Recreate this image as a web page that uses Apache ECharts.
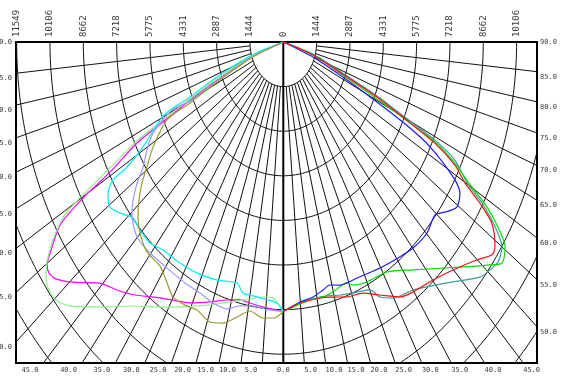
<!DOCTYPE html>
<html>
<head>
<meta charset="utf-8">
<script src="https://cdn.jsdelivr.net/npm/echarts@6/dist/echarts.min.js"></script>
<style>
  html, body { margin: 0; padding: 0; background: #fff; }
  #chart { width: 562px; height: 376px; }
</style>
</head>
<body>
<div id="chart"></div>
<script>
// Intensity rings in candela (one ring per step) and angle ticks in degrees
const intensityTicks = [0, 1444, 2887, 4331, 5775, 7218, 8662, 10106, 11549];
const ringStep = 1443.6;
const ringCount = 10;
const sideGammaTicks = [90, 85, 80, 75, 70, 65, 60, 55, 50];
const bottomGammaTicks = [0, 5, 10, 15, 20, 25, 30, 35, 40, 45];
const spokeStep = 5;

// Photometric curves: [gamma in degrees, intensity in cd]
// right half of the diagram
const planeRed = [[90,0],[71.9,1353],[67.7,2982],[66.3,4431],[64.5,6082],[63.5,7338],[61.8,8435],[59.9,9096],[58.5,9987],[57.0,10772],[54.1,11318],[52.7,11369],[50.0,10963],[44.9,10415],[40.1,10069],[34.8,9851],[31.5,9679],[27.1,9198],[23.0,8828],[18.5,8702],[14.6,8530],[10.9,8438],[4.9,8479],[0,8723]];
const planeGreen = [[90,0],[71.9,1353],[67.1,2995],[65.6,4457],[64.5,6082],[63.8,7324],[62.2,8404],[60.5,9193],[58.8,10314],[57.2,11061],[55.4,11671],[52.9,11871],[50.7,11400],[46.4,10564],[37.3,9274],[31.1,8694],[25.0,8572],[21.0,8424],[19.5,8274],[14.9,8373],[11.8,8431],[7.9,8431],[0,8723]];
const planeTeal = [[90,0],[73.2,1343],[68.3,2970],[66.7,4418],[65.0,6054],[64.2,7296],[62.8,8359],[60.2,9173],[58.8,10061],[56.9,10952],[55.0,11565],[52.6,11713],[50.5,11602],[48.2,11420],[42.3,10541],[35.0,9798],[29.8,9552],[26.9,9256],[25.1,8862],[21.5,8699],[16.7,8549],[10.9,8405],[4.9,8479],[0,8723]];
const planeBlue = [[90,0],[69.3,1375],[66.0,3020],[64.4,4499],[63.1,6153],[61.9,7205],[59.3,8550],[57.4,9080],[54.6,9226],[51.8,8906],[49.6,8633],[45.2,8773],[40.1,8719],[35.4,8577],[29.8,8429],[22.7,8279],[17.3,8239],[14.4,8121],[12.1,8210],[8.9,8353],[4.9,8447],[0,8723]];
// left half of the diagram
const planeMagenta = [[90,0],[70.9,1435],[66.8,3124],[65.1,4455],[63.6,5819],[62.7,7130],[60.7,8606],[59.8,10039],[58.5,11341],[55.9,12197],[54.9,12506],[53.6,12605],[52.1,12481],[49.5,11972],[45.5,11131],[41.9,10785],[38.1,10407],[33.9,9950],[30.0,9643],[25.6,9365],[20.7,8995],[16.3,8700],[12.7,8559],[9.7,8571],[5.9,8623],[0,8723]];
const planeLightGreen = [[90,0],[71.5,1429],[67.3,3111],[65.5,4442],[64.1,5790],[63.2,7100],[61.5,8543],[60.4,9883],[59.4,10989],[57.3,11856],[55.2,12468],[53.6,12767],[52.0,12933],[49.7,12910],[47.2,12585],[42.8,11689],[37.3,10742],[30.4,9948],[24.1,9362],[18.7,8952],[13.5,8619],[9.8,8442],[6.1,8300],[3.1,8298],[0,8723]];
const planeCyan = [[90,0],[72.8,1419],[68.5,3087],[66.2,4416],[65.4,5682],[60.8,6962],[59.1,7886],[58.8,8623],[57.2,9030],[54.6,9213],[52.0,8982],[48.8,8650],[45.6,8692],[41.6,8698],[37.7,8513],[32.0,8437],[26.6,8359],[20.4,8221],[14.4,8054],[12.1,8310],[7.9,8331],[1.9,8452],[0,8723]];
const planeLavender = [[90,0],[70.3,1440],[66.3,3137],[64.7,4469],[65.5,5299],[62.4,6365],[59.4,6860],[56.3,7300],[54.2,7808],[51.8,8278],[49.5,8620],[45.1,8943],[40.2,8943],[34.5,8881],[28.6,8887],[23.9,8890],[19.8,8980],[15.8,8979],[12.4,8748],[8.7,8645],[5.2,8679],[0,8723]];
const planeOlive = [[90,0],[69.7,1446],[65.7,3150],[64.0,4498],[63.4,5634],[58.9,6587],[55.6,7157],[53.3,7634],[50.7,8076],[48.0,8467],[45.1,8760],[41.0,9002],[36.4,9004],[33.4,9227],[30.1,9536],[26.6,9518],[23.3,9445],[19.3,9603],[16.0,9463],[12.7,9125],[9.4,8825],[5.6,8976],[2.6,8942],[0,8723]];

// visible window of the diagram, in candela
const X_MIN = -11577, X_MAX = 10988, Y_MAX = 10390;

const DEG = Math.PI / 180;
// side: +1 right half, -1 left half; y grows downward from the lamp centre
function polarPoint(gamma, cd, side) {
  return [side * cd * Math.sin(gamma * DEG), cd * Math.cos(gamma * DEG)];
}

const FONT = 'DejaVu Sans Mono';
const series = [];

// intensity rings
for (let k = 1; k <= ringCount; k++) {
  const r = k * ringStep;
  const pts = [];
  for (let g = -90; g <= 90; g += 1) pts.push([r * Math.sin(g * DEG), r * Math.cos(g * DEG)]);
  series.push({ type: 'line', data: pts, showSymbol: false, silent: true, clip: true,
    lineStyle: { color: '#111', width: 1 }, z: 1 });
}
// gamma spokes from the first ring outward
for (let g = -90 + spokeStep; g < 90; g += spokeStep) {
  if (g === 0) continue;
  const side = g < 0 ? -1 : 1;
  series.push({ type: 'line', showSymbol: false, silent: true, clip: true,
    data: [polarPoint(Math.abs(g), ringStep, side), polarPoint(Math.abs(g), 20000, side)],
    lineStyle: { color: '#111', width: 1 }, z: 1 });
}
// nadir line
series.push({ type: 'line', showSymbol: false, silent: true, clip: true,
  data: [[0, 0], [0, 20000]], lineStyle: { color: '#000', width: 2 }, z: 2 });

// photometric curves
const curves = [
  [planeMagenta, -1, '#ff00ff'],
  [planeLightGreen, -1, '#8cf08c'],
  [planeCyan, -1, '#00f0f0'],
  [planeLavender, -1, '#9a9aff'],
  [planeOlive, -1, '#9a9a30'],
  [planeTeal, 1, '#3a9c9c'],
  [planeGreen, 1, '#00e000'],
  [planeBlue, 1, '#1a1aff'],
  [planeRed, 1, '#ff1010']
];
curves.forEach(([pts, side, color]) => {
  series.push({ type: 'line', showSymbol: false, silent: true, clip: true, smooth: 0.25,
    data: pts.map(p => polarPoint(p[0], p[1], side)),
    lineStyle: { color, width: 1.2 }, z: 3 });
});

// intensity labels along the top edge
const topItems = [];
intensityTicks.forEach(t => {
  topItems.push({ name: String(t), value: [-t, 0] });
  if (t > 0 && t <= X_MAX) topItems.push({ name: String(t), value: [t, 0] });
});
series.push({ type: 'scatter', symbolSize: 0, silent: true, clip: false, z: 5, data: topItems,
  label: { show: true, position: 'top', distance: 5, rotate: 90, align: 'left', verticalAlign: 'middle',
    formatter: '{b}', fontFamily: FONT, fontSize: 9, color: '#000' } });

// gamma labels on both sides, where the spokes meet the frame
const sideItems = [];
sideGammaTicks.forEach(g => {
  const dy = g === 90 ? 0 : 5;
  const tg = Math.tan(g * DEG);
  sideItems.push({ name: g.toFixed(1), value: [X_MAX, X_MAX / tg],
    label: { position: 'right', distance: 3, align: 'left', offset: [0, dy] } });
  sideItems.push({ name: g.toFixed(1), value: [X_MIN, -X_MIN / tg],
    label: { position: 'left', distance: 4, align: 'right', offset: [0, dy] } });
});
series.push({ type: 'scatter', symbolSize: 0, silent: true, clip: false, z: 5, data: sideItems,
  label: { show: true, verticalAlign: 'middle', formatter: '{b}', fontFamily: FONT, fontSize: 7, color: '#000' } });

// gamma labels along the bottom edge
const bottomItems = [];
bottomGammaTicks.forEach(g => {
  const x = Y_MAX * Math.tan(g * DEG);
  if (g === 0) {
    bottomItems.push({ name: g.toFixed(1), value: [0, Y_MAX], label: { align: 'center' } });
    return;
  }
  bottomItems.push({ name: g.toFixed(1), value: [x, Y_MAX], label: { align: 'left' } });
  bottomItems.push({ name: g.toFixed(1), value: [-x, Y_MAX], label: { align: 'right', offset: [-5, 0] } });
});
series.push({ type: 'scatter', symbolSize: 0, silent: true, clip: false, z: 5, data: bottomItems,
  label: { show: true, position: 'bottom', distance: 4, verticalAlign: 'top', formatter: '{b}',
    fontFamily: FONT, fontSize: 7, color: '#000' } });

const chart = echarts.init(document.getElementById('chart'), null, { renderer: 'canvas' });
chart.setOption({
  animation: false,
  backgroundColor: '#fff',
  grid: { left: 16, top: 42, width: 521, height: 321, show: true, borderColor: '#000', borderWidth: 2, backgroundColor: 'transparent', containLabel: false },
  xAxis: { type: 'value', min: X_MIN, max: X_MAX, show: false },
  yAxis: { type: 'value', min: 0, max: Y_MAX, inverse: true, show: false },
  series
});
</script>
</body>
</html>
